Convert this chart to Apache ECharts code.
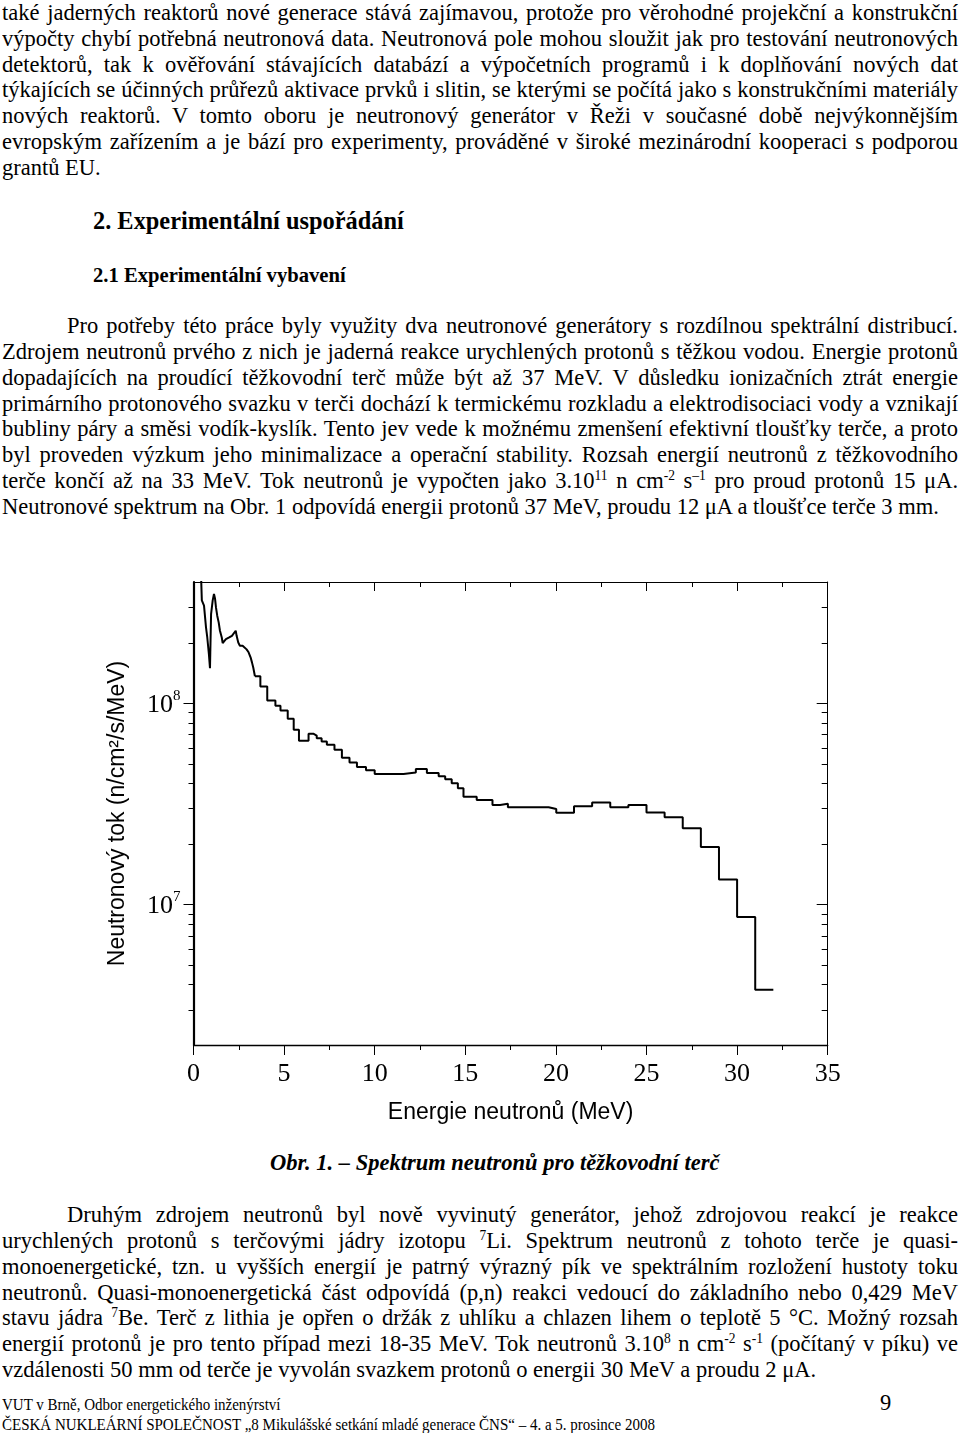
<!DOCTYPE html>
<html>
<head>
<meta charset="UTF-8">
<title>Spektrum neutronů</title>
<script src="https://cdn.jsdelivr.net/npm/echarts@6.0.0/dist/echarts.min.js"></script>
<style>
    html, body { margin: 0; padding: 0; background: #fff; }
    body {
        width: 960px; height: 1433px; position: relative; overflow: hidden;
        font-family: 'Liberation Serif', 'Times New Roman', serif; color: #000;
    }
    .ln { position: absolute; white-space: nowrap; transform-origin: 0 50%; }
    .ln.j { white-space: normal; text-align: justify; text-align-last: justify; }
    sup { font-size: 0.6em; vertical-align: 0.55em; line-height: 0; }
    #chart { position: absolute; left: 0; top: 540px; width: 960px; height: 600px; }
</style>
</head>
<body>
<div id="chart"></div>
<script>
    // spektrum z tezkovodniho terce
    // nizke energie - lomena cara
    const lowEnergy = [0.41, 0.46, 0.58, 0.69, 0.76, 0.85, 0.91, 0.97, 1.06, 1.13,
        1.19, 1.24, 1.31, 1.39, 1.46, 1.56, 1.61, 1.70, 1.79, 1.89,
        1.97, 2.05, 2.12, 2.23, 2.33, 2.38, 2.47, 2.56, 2.71, 2.79,
        2.93, 3.04, 3.15, 3.23, 3.30, 3.39];
    const lowFlux = [4.5e8, 3.24e8, 3.05e8, 2.38e8, 2.12e8, 1.75e8, 1.49e8, 2.77e8, 3.24e8, 3.49e8,
        3.30e8, 2.99e8, 2.72e8, 2.52e8, 2.29e8, 2.12e8, 1.99e8, 2.0e8, 2.08e8, 2.04e8,
        2.12e8, 2.08e8, 2.16e8, 2.20e8, 2.29e8, 2.16e8, 2.0e8, 1.93e8, 1.93e8, 1.89e8,
        1.85e8, 1.79e8, 1.69e8, 1.59e8, 1.50e8, 1.36e8];

    // vyssi energie - histogram (hrany binu a hodnoty)
    const binEdges = [3.39, 3.69, 4.07, 4.52, 4.80, 5.20, 5.53, 5.82, 6.35, 6.61,
        6.80, 7.07, 7.36, 7.78, 8.19, 8.61, 9.02, 9.52, 10.0, 11.59,
        12.27, 12.88, 13.53, 13.89, 14.25, 14.59, 14.90, 15.63, 16.50, 16.92,
        17.35, 19.60, 20.02, 21, 22, 23, 24, 25, 26, 27,
        28, 29, 30, 31, 32];
    const binFlux = [1.36e8, 1.21e8, 1.03e8, 9.7e7, 9.2e7, 8.37e7, 7.38e7, 6.5e7, 7.05e7, 6.9e7,
        6.7e7, 6.44e7, 6.21e7, 5.86e7, 5.35e7, 5.07e7, 4.82e7, 4.64e7, 4.45e7, 4.52e7,
        4.71e7, 4.50e7, 4.33e7, 4.18e7, 4.0e7, 3.78e7, 3.43e7, 3.30e7, 3.12e7, 3.16e7,
        3.04e7, 2.98e7, 2.85e7, 3.07e7, 3.21e7, 3.04e7, 3.12e7, 2.86e7, 2.71e7, 2.39e7,
        1.93e7, 1.33e7, 8.65e6, 3.76e6];

    // osy
    const xTicks = [0, 5, 10, 15, 20, 25, 30, 35];
    const yMajor = [1e7, 1e8];
    const yMinor = [3e6, 4e6, 5e6, 6e6, 7e6, 8e6, 9e6,
        2e7, 3e7, 4e7, 5e7, 6e7, 7e7, 8e7, 9e7,
        2e8, 3e8];

    // text stranky: y = stred radku, w = sirka pro zarovnani do bloku
    const X0 = 2, X1 = 958, IND = 67;
    const textLines = [
        { y: 12.5, x: X0, w: X1 - X0, t: 'také jaderných reaktorů nové generace stává zajímavou, protože pro věrohodné projekční a konstrukční' },
        { y: 38.4, x: X0, w: X1 - X0, t: 'výpočty chybí potřebná neutronová data. Neutronová pole mohou sloužit jak pro testování neutronových' },
        { y: 64.3, x: X0, w: X1 - X0, t: 'detektorů, tak k ověřování stávajících databází a výpočetních programů i k doplňování nových dat' },
        { y: 90.2, x: X0, w: X1 - X0, t: 'týkajících se účinných průřezů aktivace prvků i slitin, se kterými se počítá jako s konstrukčními materiály' },
        { y: 116.1, x: X0, w: X1 - X0, t: 'nových reaktorů. V tomto oboru je neutronový generátor v Řeži v současné době nejvýkonnějším' },
        { y: 142, x: X0, w: X1 - X0, t: 'evropským zařízením a je bází pro experimenty, prováděné v široké mezinárodní kooperaci s podporou' },
        { y: 167.9, x: X0, t: 'grantů EU.' },

        { y: 221, x: 93, t: '2. Experimentální uspořádání', size: 26, bold: true },
        { y: 275, x: 93, t: '2.1 Experimentální vybavení', size: 22, bold: true },

        { y: 326, x: IND, w: X1 - IND, t: 'Pro potřeby této práce byly využity dva neutronové generátory s rozdílnou spektrální distribucí.' },
        { y: 351.8, x: X0, w: X1 - X0, t: 'Zdrojem neutronů prvého z nich je jaderná reakce urychlených protonů s těžkou vodou. Energie protonů' },
        { y: 377.6, x: X0, w: X1 - X0, t: 'dopadajících na proudící těžkovodní terč může být až 37 MeV. V důsledku ionizačních ztrát energie' },
        { y: 403.4, x: X0, w: X1 - X0, t: 'primárního protonového svazku v terči dochází k termickému rozkladu a elektrodisociaci vody a vznikají' },
        { y: 429.2, x: X0, w: X1 - X0, t: 'bubliny páry a směsi vodík-kyslík. Tento jev vede k možnému zmenšení efektivní tloušťky terče, a proto' },
        { y: 455, x: X0, w: X1 - X0, t: 'byl proveden výzkum jeho minimalizace a operační stability. Rozsah energií neutronů z těžkovodního' },
        { y: 480.8, x: X0, w: X1 - X0, t: 'terče končí až na 33 MeV. Tok neutronů je vypočten jako 3.10<sup>11</sup> n cm<sup>-2</sup> s<sup>–1</sup> pro proud protonů 15 μA.' },
        { y: 506.6, x: X0, t: 'Neutronové spektrum na Obr. 1 odpovídá energii protonů 37 MeV, proudu 12 μA a tloušťce terče 3 mm.' },

        { y: 1163, center: 495, t: 'Obr. 1. – Spektrum neutronů pro těžkovodní terč', bold: true, italic: true },

        { y: 1215, x: IND, w: X1 - IND, t: 'Druhým zdrojem neutronů byl nově vyvinutý generátor, jehož zdrojovou reakcí je reakce' },
        { y: 1240.8, x: X0, w: X1 - X0, t: 'urychlených protonů s terčovými jádry izotopu <sup>7</sup>Li. Spektrum neutronů z tohoto terče je quasi-' },
        { y: 1266.6, x: X0, w: X1 - X0, t: 'monoenergetické, tzn. u vyšších energií je patrný výrazný pík ve spektrálním rozložení hustoty toku' },
        { y: 1292.4, x: X0, w: X1 - X0, t: 'neutronů. Quasi-monoenergetická část odpovídá (p,n) reakci vedoucí do základního nebo 0,429 MeV' },
        { y: 1318.2, x: X0, w: X1 - X0, t: 'stavu jádra <sup>7</sup>Be. Terč z lithia je opřen o držák z uhlíku a chlazen lihem o teplotě 5 °C. Možný rozsah' },
        { y: 1344, x: X0, w: X1 - X0, t: 'energií protonů je pro tento případ mezi 18-35 MeV. Tok neutronů 3.10<sup>8</sup> n cm<sup>-2</sup> s<sup>-1</sup> (počítaný v píku) ve' },
        { y: 1369.8, x: X0, t: 'vzdálenosti 50 mm od terče je vyvolán svazkem protonů o energii 30 MeV a proudu 2 μA.' },

        { y: 1405, x: X0, t: 'VUT v Brně, Odbor energetického inženýrství', size: 16 },
        { y: 1403, x: 880, t: '9', size: 24 },
        { y: 1425, x: X0, t: 'ČESKÁ NUKLEÁRNÍ SPOLEČNOST „8 Mikulášské setkání mladé generace ČNS“ – 4. a 5. prosince 2008', size: 16 }
    ];

    const FS = 24;

    function layoutText() {
        const made = textLines.map(l => {
            const size = l.size || FS;
            const d = document.createElement('div');
            d.className = 'ln';
            d.innerHTML = '<span>' + l.t + '</span>';
            d.style.fontSize = size + 'px';
            d.style.lineHeight = (size * 1.15) + 'px';
            if (l.bold) d.style.fontWeight = 'bold';
            if (l.italic) d.style.fontStyle = 'italic';
            document.body.appendChild(d);
            return { l, d, size, nat: d.firstChild.getBoundingClientRect().width };
        });
        // spolecne zuzeni pisma podle nejhustsiho radku
        let s = 1;
        made.forEach(m => { if (m.l.w) s = Math.min(s, m.l.w / m.nat); });
        s *= 0.996;
        made.forEach(m => {
            const lh = m.size * 1.15;
            m.d.style.top = (m.l.y - lh / 2) + 'px';
            m.d.style.transform = 'scaleX(' + s + ')';
            if (m.l.w) {
                m.d.classList.add('j');
                m.d.style.left = m.l.x + 'px';
                m.d.style.width = (m.l.w / s) + 'px';
            } else if (m.l.center) {
                m.d.style.left = (m.l.center - m.nat * s / 2) + 'px';
            } else {
                m.d.style.left = m.l.x + 'px';
            }
        });
    }
    layoutText();

    // graf
    const chart = echarts.init(document.getElementById('chart'), null, { renderer: 'canvas' });

    const lowData = lowEnergy.map((e, i) => [e, lowFlux[i]]);
    const stepData = binEdges.map((e, i) => [e, binFlux[Math.min(i, binFlux.length - 1)]]);
    const tickData = yMajor.map(v => [0, v, 1]).concat(yMinor.map(v => [0, v, 0]));

    const black = { color: '#000', width: 1 };
    const serif = 'Liberation Serif';

    const option = {
        animation: false,
        grid: {
            left: 193.5, top: 42, width: 634.2, height: 463,
            containLabel: false, outerBoundsMode: 'none'
        },
        xAxis: [{
            type: 'value', position: 'bottom', min: 0, max: 35, interval: 5,
            axisLine: { onZero: false, lineStyle: { color: '#000', width: 1.3 } },
            axisTick: { length: 10, lineStyle: black },
            minorTick: { show: true, splitNumber: 2, length: 5, lineStyle: black },
            splitLine: { show: false },
            axisLabel: {
                margin: 16,
                formatter: v => xTicks.indexOf(v) >= 0 ? '{n|' + v + '}' : '',
                rich: { n: { fontFamily: serif, fontSize: 26, color: '#000' } }
            },
            name: 'Energie neutronů (MeV)', nameLocation: 'middle', nameGap: 56,
            nameTextStyle: { color: '#000', fontFamily: 'Liberation Sans', fontSize: 23 }
        }, {
            type: 'value', position: 'top', min: 0, max: 35, interval: 5,
            axisLine: { onZero: false, lineStyle: { color: '#000', width: 1 } },
            axisTick: { inside: true, length: 9, lineStyle: black },
            minorTick: { show: true, splitNumber: 2, length: 5, lineStyle: black },
            splitLine: { show: false },
            axisLabel: { show: false }
        }],
        yAxis: [{
            type: 'log', logBase: 10, min: 2e6, max: 4e8, position: 'left',
            axisLine: { show: true, onZero: false, lineStyle: { color: '#000', width: 2.2 } },
            axisTick: { show: false },
            splitLine: { show: false },
            axisLabel: {
                margin: 13,
                formatter: v => {
                    const e = Math.log10(v);
                    if (Math.abs(e - Math.round(e)) > 1e-6) return '';
                    return '{b|10}{e|' + Math.round(e) + '}';
                },
                rich: {
                    b: { fontFamily: serif, fontSize: 26, color: '#000', lineHeight: 30, verticalAlign: 'bottom' },
                    e: { fontFamily: serif, fontSize: 15, color: '#000', lineHeight: 16, verticalAlign: 'top' }
                }
            },
            name: 'Neutronový tok (n/cm²/s/MeV)', nameLocation: 'middle', nameGap: 64,
            nameTextStyle: { color: '#000', fontFamily: 'Liberation Sans', fontSize: 23 }
        }, {
            type: 'log', logBase: 10, min: 2e6, max: 4e8, position: 'right',
            axisLine: { show: true, onZero: false, lineStyle: { color: '#000', width: 1 } },
            axisTick: { show: false },
            splitLine: { show: false },
            axisLabel: { show: false }
        }],
        series: [{
            // znacky na logaritmickych osach (vlevo ven, vpravo dovnitr)
            type: 'custom',
            coordinateSystem: 'cartesian2d',
            xAxisIndex: 0, yAxisIndex: 0,
            silent: true, clip: false, z: 5,
            encode: { x: 0, y: 1 },
            data: tickData,
            renderItem: (params, api) => {
                const v = api.value(1);
                const major = api.value(2) === 1;
                const pl = api.coord([0, v]);
                const pr = api.coord([35, v]);
                const lenL = major ? 10 : 5;
                const lenR = major ? 11 : 6;
                const y = Math.round(pl[1]) + 0.5;
                return {
                    type: 'group',
                    children: [{
                        type: 'line',
                        shape: { x1: pl[0] - lenL, y1: y, x2: pl[0], y2: y },
                        style: { stroke: '#000', lineWidth: 1 }
                    }, {
                        type: 'line',
                        shape: { x1: pr[0] - lenR, y1: y, x2: pr[0], y2: y },
                        style: { stroke: '#000', lineWidth: 1 }
                    }]
                };
            }
        }, {
            type: 'line',
            xAxisIndex: 0, yAxisIndex: 0,
            data: lowData,
            showSymbol: false,
            clip: true,
            lineStyle: { color: '#000', width: 2 },
            itemStyle: { color: '#000' }
        }, {
            type: 'line',
            xAxisIndex: 0, yAxisIndex: 0,
            data: stepData,
            step: 'end',
            showSymbol: false,
            clip: true,
            lineStyle: { color: '#000', width: 2 },
            itemStyle: { color: '#000' }
        }]
    };

    chart.setOption(option);
</script>
</body>
</html>
